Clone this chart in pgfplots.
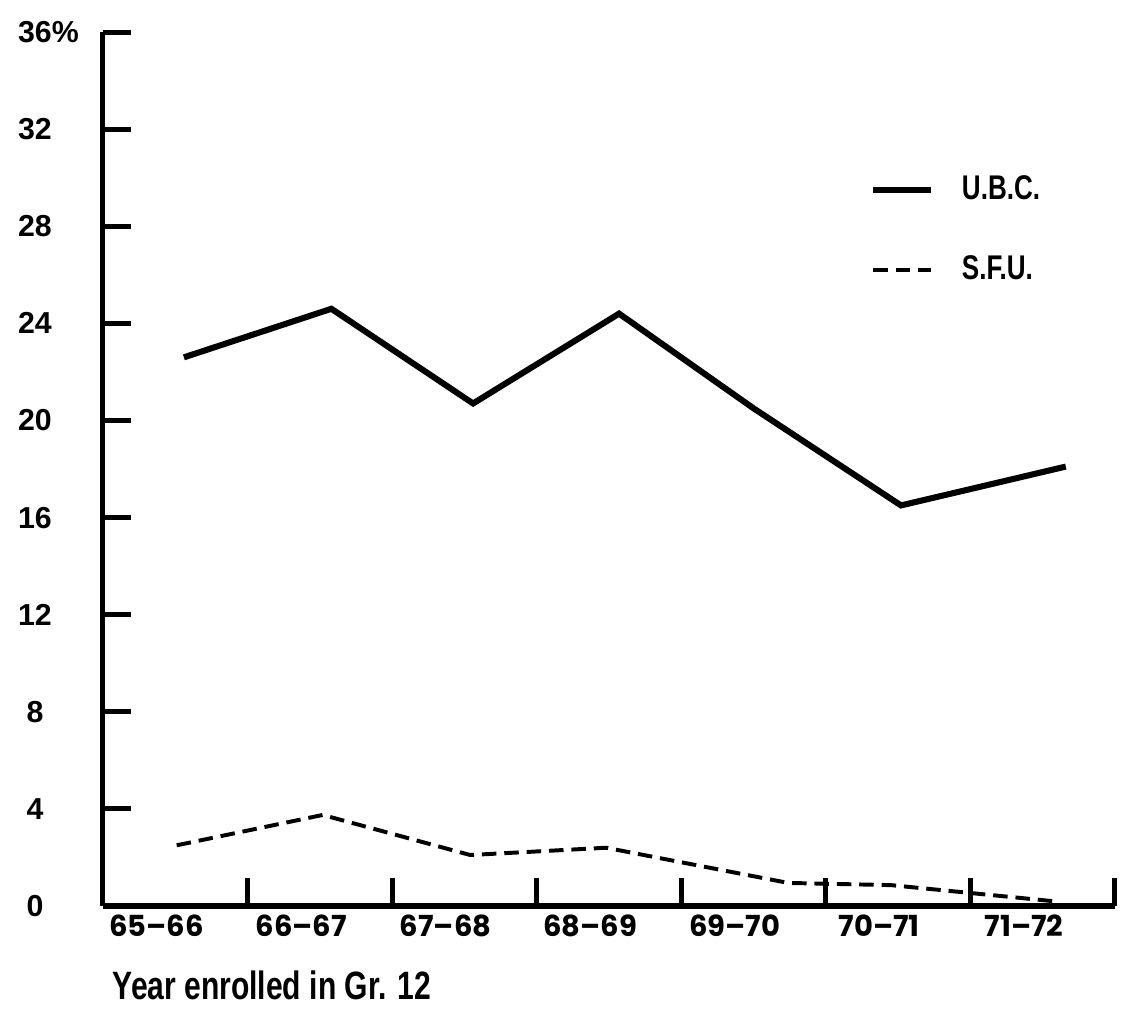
\documentclass[border=0pt]{standalone}
\usepackage{fontspec}
\setmainfont{Liberation Sans}
\newfontfamily\condfont{Liberation Sans}[FakeStretch=0.76]
\newfontfamily\tickfont{Poppins}
\usepackage{pgfplots}
\pgfplotsset{compat=1.18}
\begin{document}
\begin{tikzpicture}
\begin{axis}[
  at={(0,0)}, anchor=south west,
  scale only axis, width=13.493cm, height=11.653cm,
  xmin=-0.5, xmax=6.5, ymin=0, ymax=36,
  axis lines*=left,
  axis line style={line width=1.9pt, black},
  tick align=inside, major tick length=0.37cm,
  tick style={line width=1.9pt, black},
  ytick={0,4,...,36},
  yticklabels={0,4,8,12,16,20,24,28,32,36\rlap{\%}},
  yticklabel style={font=\bfseries\fontsize{11.5}{13}\selectfont, anchor=center, inner sep=0pt, xshift=-0.907cm},
  xtick={-0.5,0.5,...,6.5},
  x tick label as interval,
  xticklabels={65\textendash66,66\textendash67,67\textendash68,68\textendash69,\raisebox{-0.16cm}{69\textendash70},\raisebox{-0.16cm}{70\textendash71},\raisebox{-0.16cm}{71\textendash72}},
  xticklabel style={font=\tickfont\bfseries\fontsize{11}{13}\selectfont, xshift=-0.25cm},
  xlabel={Year enrolled in Gr. 12},
  xlabel style={at={(axis description cs:0.009,0)}, anchor=north west, inner sep=0pt, yshift=-0.86cm, font=\condfont\bfseries\fontsize{15}{17}\selectfont},
  legend style={at={(axis description cs:0.75,0.848)}, anchor=north west, draw=none, fill=none,
    font=\condfont\bfseries\fontsize{13}{15}\selectfont, row sep=0.55cm,
    /tikz/every odd column/.append style={column sep=0.3cm}},
  legend cell align=left,
  legend image code/.code={\draw[#1] (0cm,0cm) -- (0.77cm,0cm);},
  clip=false,
]
\addplot[line width=2.3pt, black] coordinates {(0.06,22.6)(1.08,24.6)(2.06,20.7)(3.07,24.4)(4.0,20.5)(5.02,16.5)(6.16,18.1)};
\addlegendentry{U.B.C.}
\addplot[line width=1.5pt, black, dash pattern=on 5.5pt off 3pt] coordinates {(0.01,2.5)(1.02,3.75)(2.04,2.1)(2.98,2.4)(4.24,0.95)(4.95,0.86)(6.07,0.2)};
\addlegendentry{S.F.U.}
\end{axis}
\path[use as bounding box] (-1.373,-1.413) rectangle (13.627,12.08);
\end{tikzpicture}
\end{document}
